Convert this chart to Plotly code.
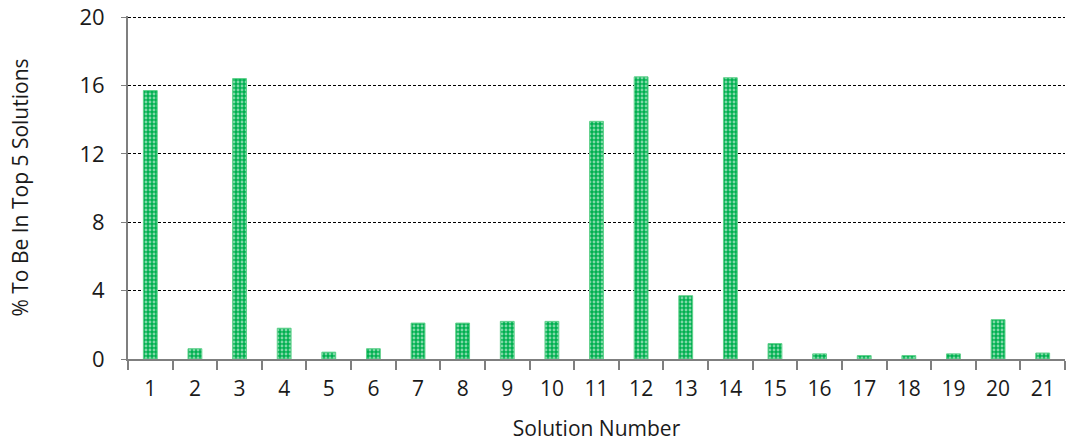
import plotly.graph_objects as go

solutions = [str(i) for i in range(1, 22)]
percent_top5 = [15.7, 0.6, 16.4, 1.8, 0.4, 0.6, 2.1, 2.1, 2.2, 2.2, 13.9,
                16.5, 3.7, 16.45, 0.9, 0.3, 0.2, 0.2, 0.3, 2.3, 0.35]
y_ticks = [0, 4, 8, 12, 16, 20]

fig = go.Figure()
fig.add_trace(go.Bar(
    x=solutions,
    y=percent_top5,
    marker=dict(
        color="#00b050",
        line=dict(color="#5fd08a", width=1),
        pattern=dict(shape=".", fgcolor="white", bgcolor="#00b050",
                     size=4, solidity=0.4, fillmode="overlay"),
    ),
    width=0.31,
))

fig.update_layout(
    width=1071, height=443,
    margin=dict(l=128, r=6, t=16, b=84, autoexpand=False),
    plot_bgcolor="white", paper_bgcolor="white",
    font=dict(family="Open Sans, sans-serif", size=21, color="#1a1a1a"),
    showlegend=False,
)
fig.update_xaxes(
    type="category", automargin=False,
    showline=True, linecolor="#7f7f7f", linewidth=2,
    ticks="outside", tickson="boundaries", ticklen=9, tickcolor="#7f7f7f", tickwidth=2,
    showgrid=False,
    ticklabelstandoff=10,
    title=dict(text="Solution Number", font=dict(size=21), standoff=20),
    tickfont=dict(size=21),
)
fig.update_yaxes(
    range=[0, 20.06], automargin=False,
    tickvals=y_ticks,
    showline=True, linecolor="#7f7f7f", linewidth=2, mirror=False,
    ticks="outside", ticklen=5, tickcolor="#7f7f7f", tickwidth=1,
    ticklabelstandoff=12, ticklabeloverflow="allow",
    showgrid=True, gridcolor="black", gridwidth=1, griddash="3px,2px",
    zeroline=False,
    title=dict(text="% To Be In Top 5 Solutions", font=dict(size=21), standoff=45),
    tickfont=dict(size=22),
)

fig.write_html("out.html", config={"displayModeBar": False},
               post_script="document.body.style.margin='0';")
